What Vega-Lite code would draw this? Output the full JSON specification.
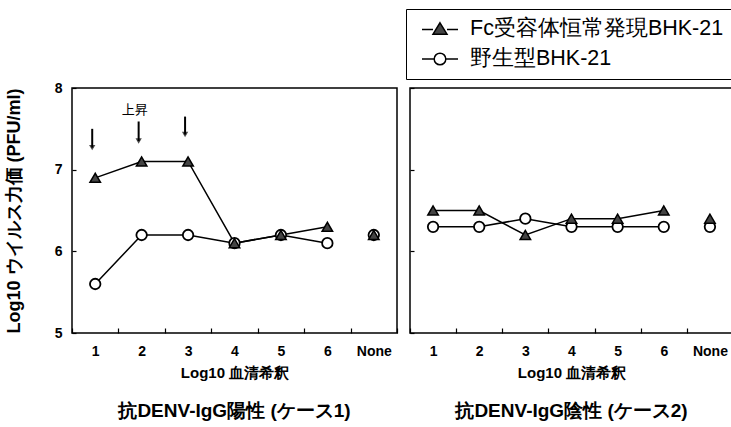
{
  "$schema": "https://vega.github.io/schema/vega-lite/v6.json",
  "background": "white",
  "padding": {"left": 4, "top": 8, "right": 0, "bottom": 5},
  "config": {
    "font": "Liberation Sans",
    "view": {"stroke": "black", "strokeWidth": 1.5},
    "axis": {
      "labelFont": "Liberation Sans",
      "labelFontWeight": "bold",
      "labelFontSize": 14,
      "labelColor": "black",
      "titleFont": "Liberation Sans",
      "titleColor": "black",
      "titleFontWeight": "bold",
      "titleFontSize": 15,
      "domain": false,
      "grid": false,
      "tickColor": "black",
      "tickWidth": 1.2
    },
    "title": {"font": "Liberation Sans", "fontWeight": "bold", "fontSize": 19, "color": "black"}
  },
  "datasets": {
    "main": [
      {"panel": "p1", "series": "野生型BHK-21", "dil": "1", "val": 5.6},
      {"panel": "p1", "series": "野生型BHK-21", "dil": "2", "val": 6.2},
      {"panel": "p1", "series": "野生型BHK-21", "dil": "3", "val": 6.2},
      {"panel": "p1", "series": "野生型BHK-21", "dil": "4", "val": 6.1},
      {"panel": "p1", "series": "野生型BHK-21", "dil": "5", "val": 6.2},
      {"panel": "p1", "series": "野生型BHK-21", "dil": "6", "val": 6.1},
      {"panel": "p1", "series": "野生型BHK-21", "dil": "None", "val": 6.2},
      {"panel": "p1", "series": "Fc受容体恒常発現BHK-21", "dil": "1", "val": 6.9},
      {"panel": "p1", "series": "Fc受容体恒常発現BHK-21", "dil": "2", "val": 7.1},
      {"panel": "p1", "series": "Fc受容体恒常発現BHK-21", "dil": "3", "val": 7.1},
      {"panel": "p1", "series": "Fc受容体恒常発現BHK-21", "dil": "4", "val": 6.1},
      {"panel": "p1", "series": "Fc受容体恒常発現BHK-21", "dil": "5", "val": 6.2},
      {"panel": "p1", "series": "Fc受容体恒常発現BHK-21", "dil": "6", "val": 6.3},
      {"panel": "p1", "series": "Fc受容体恒常発現BHK-21", "dil": "None", "val": 6.2},
      {"panel": "p2", "series": "野生型BHK-21", "dil": "1", "val": 6.3},
      {"panel": "p2", "series": "野生型BHK-21", "dil": "2", "val": 6.3},
      {"panel": "p2", "series": "野生型BHK-21", "dil": "3", "val": 6.4},
      {"panel": "p2", "series": "野生型BHK-21", "dil": "4", "val": 6.3},
      {"panel": "p2", "series": "野生型BHK-21", "dil": "5", "val": 6.3},
      {"panel": "p2", "series": "野生型BHK-21", "dil": "6", "val": 6.3},
      {"panel": "p2", "series": "野生型BHK-21", "dil": "None", "val": 6.3},
      {"panel": "p2", "series": "Fc受容体恒常発現BHK-21", "dil": "1", "val": 6.5},
      {"panel": "p2", "series": "Fc受容体恒常発現BHK-21", "dil": "2", "val": 6.5},
      {"panel": "p2", "series": "Fc受容体恒常発現BHK-21", "dil": "3", "val": 6.2},
      {"panel": "p2", "series": "Fc受容体恒常発現BHK-21", "dil": "4", "val": 6.4},
      {"panel": "p2", "series": "Fc受容体恒常発現BHK-21", "dil": "5", "val": 6.4},
      {"panel": "p2", "series": "Fc受容体恒常発現BHK-21", "dil": "6", "val": 6.5},
      {"panel": "p2", "series": "Fc受容体恒常発現BHK-21", "dil": "None", "val": 6.4}
    ],
    "arrows": [
      {"dil": "1", "top": 7.5, "tip": 7.27},
      {"dil": "2", "top": 7.59, "tip": 7.35},
      {"dil": "3", "top": 7.65, "tip": 7.43}
    ],
    "notes": [
      {"dil": "2", "val": 7.73, "label": "上昇"}
    ]
  },
  "spacing": 9,
  "hconcat": [
    {
      "width": 325,
      "height": 245,
      "title": {"text": "抗DENV-IgG陽性 (ケース1)", "orient": "bottom", "offset": 22},
      "layer": [
        {
          "data": {"name": "main"},
          "transform": [{"filter": "datum.panel === 'p1' && datum.dil !== 'None'"}],
          "mark": {"type": "line", "color": "black", "strokeWidth": 1.5},
          "encoding": {
            "x": {"field": "dil", "type": "ordinal", "scale": {"domain": ["1", "2", "3", "4", "5", "6", "None"], "paddingInner": 0, "paddingOuter": 0},
              "axis": {"title": "Log10 血清希釈", "labelAngle": 0, "tickBand": "extent", "tickSize": -5, "labelPadding": 16, "titlePadding": 7}},
            "y": {"field": "val", "type": "quantitative", "scale": {"domain": [5, 8]},
              "axis": {"values": [5, 6, 7, 8], "format": "d", "tickSize": -4, "labelPadding": 14, "title": "Log10 ウイルス力価 (PFU/ml)", "titleFontSize": 18, "titlePadding": 31}},
            "detail": {"field": "series"}
          }
        },
        {
          "data": {"name": "main"},
          "transform": [{"filter": "datum.panel === 'p1' && datum.series === '野生型BHK-21'"}],
          "mark": {"type": "point", "shape": "circle", "filled": true, "fill": "white", "stroke": "black", "strokeWidth": 1.8, "size": 110, "opacity": 1},
          "encoding": {
            "x": {"field": "dil", "type": "ordinal"},
            "y": {"field": "val", "type": "quantitative"}
          }
        },
        {
          "data": {"name": "main"},
          "transform": [{"filter": "datum.panel === 'p1' && datum.series !== '野生型BHK-21'"}],
          "mark": {"type": "point", "shape": "triangle-up", "filled": true, "fill": "#444444", "stroke": "black", "strokeWidth": 1.5, "size": 110, "opacity": 1},
          "encoding": {
            "x": {"field": "dil", "type": "ordinal"},
            "y": {"field": "val", "type": "quantitative"}
          }
        },
        {
          "data": {"name": "arrows"},
          "mark": {"type": "rule", "color": "black", "strokeWidth": 2, "xOffset": -3},
          "encoding": {
            "x": {"field": "dil", "type": "ordinal"},
            "y": {"field": "top", "type": "quantitative"},
            "y2": {"field": "tip"}
          }
        },
        {
          "data": {"name": "arrows"},
          "mark": {"type": "point", "shape": "triangle-down", "filled": true, "color": "black", "size": 40, "xOffset": -3},
          "encoding": {
            "x": {"field": "dil", "type": "ordinal"},
            "y": {"field": "tip", "type": "quantitative"}
          }
        },
        {
          "data": {"name": "notes"},
          "mark": {"type": "text", "fontSize": 13, "font": "Noto Sans CJK JP", "color": "black", "dx": -7},
          "encoding": {
            "x": {"field": "dil", "type": "ordinal"},
            "y": {"field": "val", "type": "quantitative"},
            "text": {"field": "label"}
          }
        }
      ]
    },
    {
      "width": 323,
      "height": 245,
      "title": {"text": "抗DENV-IgG陰性 (ケース2)", "orient": "bottom", "offset": 22},
      "layer": [
        {
          "data": {"name": "main"},
          "transform": [{"filter": "datum.panel === 'p2' && datum.dil !== 'None'"}],
          "mark": {"type": "line", "color": "black", "strokeWidth": 1.5},
          "encoding": {
            "x": {"field": "dil", "type": "ordinal", "scale": {"domain": ["1", "2", "3", "4", "5", "6", "None"], "paddingInner": 0, "paddingOuter": 0},
              "axis": {"title": "Log10 血清希釈", "labelAngle": 0, "tickBand": "extent", "tickSize": -5, "labelPadding": 16, "titlePadding": 7}},
            "y": {"field": "val", "type": "quantitative", "scale": {"domain": [5, 8]},
              "axis": {"values": [5, 6, 7, 8], "tickSize": -4, "labels": false, "title": null}},
            "detail": {"field": "series"}
          }
        },
        {
          "data": {"name": "main"},
          "transform": [{"filter": "datum.panel === 'p2'"}],
          "mark": {"type": "point", "filled": true, "stroke": "black", "strokeWidth": 1.5, "opacity": 0},
          "encoding": {
            "x": {"field": "dil", "type": "ordinal"},
            "y": {"field": "val", "type": "quantitative"},
            "shape": {"field": "series", "type": "nominal",
              "scale": {"domain": ["Fc受容体恒常発現BHK-21", "野生型BHK-21"],
                "range": ["M-1.8,0.05H-0.7M0.7,0.05H1.8M0,-0.62L0.7,0.52L-0.7,0.52Z", "M-1.8,0H-0.58M0.58,0H1.8M-0.58,0A0.58,0.58,0,1,0,0.58,0A0.58,0.58,0,1,0,-0.58,0Z"]},
              "legend": {
                "orient": "none", "legendX": 334, "legendY": -79, "title": null,
                "strokeColor": "black", "padding": 9, "labelFontSize": 21.5, "labelFont": "Liberation Sans", "labelColor": "black", "labelLimit": 400,
                "symbolSize": 400, "symbolStrokeWidth": 1.5, "symbolStrokeColor": "black", "symbolOpacity": 1, "symbolOffset": 14, "labelOffset": 19, "rowPadding": 8,
                "encode": {"symbols": {"update": {"stroke": {"value": "black"}, "strokeWidth": {"value": 1.5}, "opacity": {"value": 1}}}}
              }},
            "fill": {"field": "series", "type": "nominal", "scale": {"domain": ["Fc受容体恒常発現BHK-21", "野生型BHK-21"], "range": ["#444444", "white"]},
              "legend": {
                "orient": "none", "legendX": 334, "legendY": -79, "title": null,
                "strokeColor": "black", "padding": 9, "labelFontSize": 21.5, "labelFont": "Liberation Sans", "labelColor": "black", "labelLimit": 400,
                "symbolSize": 400, "symbolStrokeWidth": 1.5, "symbolStrokeColor": "black", "symbolOpacity": 1, "symbolOffset": 14, "labelOffset": 19, "rowPadding": 8,
                "encode": {"symbols": {"update": {"stroke": {"value": "black"}, "strokeWidth": {"value": 1.5}, "opacity": {"value": 1}}}}
              }}
          }
        },
        {
          "data": {"name": "main"},
          "transform": [{"filter": "datum.panel === 'p2' && datum.series === '野生型BHK-21'"}],
          "mark": {"type": "point", "shape": "circle", "filled": true, "fill": "white", "stroke": "black", "strokeWidth": 1.8, "size": 110, "opacity": 1},
          "encoding": {
            "x": {"field": "dil", "type": "ordinal"},
            "y": {"field": "val", "type": "quantitative"}
          }
        },
        {
          "data": {"name": "main"},
          "transform": [{"filter": "datum.panel === 'p2' && datum.series !== '野生型BHK-21'"}],
          "mark": {"type": "point", "shape": "triangle-up", "filled": true, "fill": "#444444", "stroke": "black", "strokeWidth": 1.5, "size": 110, "opacity": 1},
          "encoding": {
            "x": {"field": "dil", "type": "ordinal"},
            "y": {"field": "val", "type": "quantitative"}
          }
        }
      ]
    }
  ]
}
